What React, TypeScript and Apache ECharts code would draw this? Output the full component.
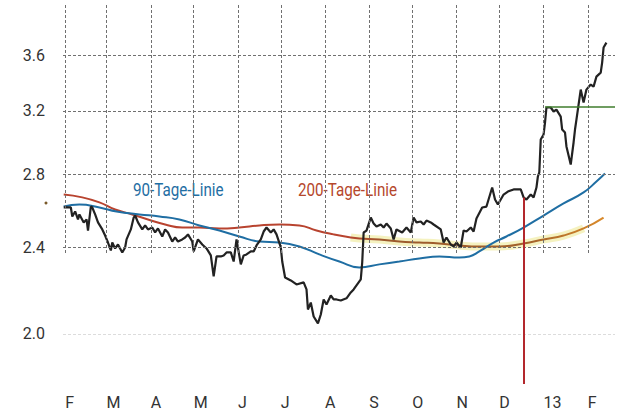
import React, { useEffect, useRef } from "react";
import * as echarts from "echarts";

// x values are days counted from 1 Feb 2012
const monthStartDays = [0, 29, 60, 90, 121, 151, 182, 213, 243, 274, 304, 335, 366];
const monthLabels = ["F", "M", "A", "M", "J", "J", "A", "S", "O", "N", "D", "13", "F"];
const yTickValues = [2.0, 2.4, 2.8, 3.2, 3.6];
const yTickLabels = ["2.0", "2.4", "2.8", "3.2", "3.6"];

const priceDays = [
  -1, 4, 5, 7, 9, 10, 13, 15, 16, 18,
  19, 21, 23, 26, 28, 30, 32, 33, 35, 37,
  40, 42, 43, 46, 48, 49, 51, 54, 56, 58,
  61, 63, 65, 68, 70, 72, 75, 77, 79, 82,
  84, 86, 89, 90, 93, 96, 99, 102, 104, 106,
  109, 111, 113, 116, 118, 120, 123, 125, 127, 130,
  132, 134, 137, 139, 141, 144, 146, 148, 151, 152,
  154, 158, 162, 167, 169, 170, 172, 174, 177, 179,
  181, 183, 186, 188, 190, 193, 197, 200, 202, 204,
  207, 208, 209, 211, 214, 216, 218, 221, 223, 225,
  228, 230, 232, 236, 239, 242, 244, 246, 249, 251,
  253, 256, 258, 263, 265, 267, 270, 272, 274, 277,
  279, 281, 284, 286, 288, 292, 295, 299, 301, 303,
  307, 310, 314, 319, 321, 323, 326, 328, 330, 331,
  332, 333, 335, 336, 337, 340, 342, 344, 347, 348,
  350, 351, 354, 356, 357, 358, 359, 361, 363, 365,
  368, 370, 372, 375, 376, 377, 379,
];
const priceValues = [
  2.611, 2.611, 2.562, 2.589, 2.546, 2.573, 2.53, 2.546, 2.487, 2.616,
  2.611, 2.573, 2.53, 2.493, 2.461, 2.425, 2.385, 2.425, 2.395, 2.415,
  2.375, 2.4, 2.441, 2.493, 2.556, 2.567, 2.53, 2.493, 2.514, 2.493,
  2.503, 2.477, 2.498, 2.456, 2.493, 2.477, 2.43, 2.451, 2.43, 2.441,
  2.451, 2.467, 2.43, 2.38, 2.441, 2.415, 2.395, 2.36, 2.258, 2.355,
  2.355, 2.36, 2.375, 2.375, 2.33, 2.441, 2.316, 2.36, 2.365, 2.38,
  2.38, 2.41, 2.441, 2.482, 2.503, 2.477, 2.493, 2.467, 2.4, 2.33,
  2.253, 2.239, 2.22, 2.23, 2.197, 2.106, 2.137, 2.075, 2.045, 2.084,
  2.151, 2.128, 2.169, 2.151, 2.151, 2.146, 2.156, 2.183, 2.197, 2.216,
  2.244, 2.325, 2.477, 2.487, 2.556, 2.524, 2.508, 2.519, 2.503, 2.524,
  2.498, 2.441, 2.493, 2.477, 2.503, 2.477, 2.556, 2.53, 2.535, 2.519,
  2.54, 2.53, 2.519, 2.493, 2.425, 2.451, 2.415, 2.405, 2.425, 2.4,
  2.487, 2.482, 2.503, 2.482, 2.551, 2.611, 2.616, 2.723, 2.655, 2.627,
  2.683, 2.7, 2.712, 2.712, 2.667, 2.655, 2.683, 2.667, 2.723, 2.787,
  2.811, 3.013, 3.045, 3.122, 3.223, 3.223, 3.196, 3.209, 3.162, 3.077,
  3.057, 2.969, 2.858, 2.994, 3.077, 3.142, 3.209, 3.347, 3.257, 3.347,
  3.383, 3.368, 3.44, 3.469, 3.543, 3.657, 3.695,
];

const ma90Days = [-1, 10, 24, 36, 52, 66, 80, 94, 108, 122, 136, 150, 164, 178, 192, 206, 220, 234, 248, 262, 276, 283, 290, 300, 309, 321, 335, 349, 363, 372, 378];
const ma90Values = [2.616, 2.627, 2.611, 2.589, 2.573, 2.562, 2.546, 2.514, 2.487, 2.456, 2.43, 2.425, 2.405, 2.365, 2.33, 2.301, 2.316, 2.33, 2.345, 2.355, 2.35, 2.355, 2.38, 2.425, 2.456, 2.503, 2.567, 2.633, 2.695, 2.758, 2.805];

const ma200Days = [-1, 12, 24, 35, 47, 58, 70, 82, 94, 108, 122, 136, 150, 164, 176, 188, 200, 206, 220, 234, 248, 262, 276, 290, 304, 321, 335, 349, 363, 377];
const ma200Values = [2.683, 2.667, 2.639, 2.6, 2.573, 2.546, 2.519, 2.503, 2.503, 2.498, 2.503, 2.514, 2.519, 2.514, 2.487, 2.467, 2.451, 2.446, 2.441, 2.43, 2.425, 2.42, 2.41, 2.405, 2.405, 2.42, 2.441, 2.461, 2.498, 2.556];

const signalDay = 321;
const signalPrice = 2.667;
const resistanceLevel = 3.226;
const resistanceStartDay = 336;

const X_MIN = -1.5;
const X_MAX = 385;
const Y_MIN = 1.8;
const Y_MAX = 4.0;

const FONT = "Roboto, 'Liberation Sans', sans-serif";

function buildOption() {
  const grid = { color: "#707070", width: 1, type: [3, 2] as number[] };
  const hSpans: Record<string, [number, number, string]> = {
    "3.6": [X_MIN, X_MAX, "#707070"],
    "3.2": [X_MIN, resistanceStartDay, "#707070"],
    "2.8": [X_MIN, X_MAX, "#707070"],
    "2.4": [X_MIN, 355, "#707070"],
    "2.0": [X_MIN, X_MAX, "#dcdcdc"],
  };
  const hLines = yTickValues.map((v, i) => {
    const [a, b, c] = hSpans[yTickLabels[i]];
    return [
      {
        coord: [a, v],
        lineStyle: { ...grid, color: c },
        label: {
          show: true,
          position: "start",
          distance: 18,
          formatter: yTickLabels[i],
          color: "#333",
          fontSize: 16,
          fontFamily: FONT,
        },
      },
      { coord: [b, v] },
    ];
  });
  const vLines = monthStartDays.map((d) => [
    { coord: [d, Y_MAX], lineStyle: grid, label: { show: false } },
    { coord: [d, 2.37] },
  ]);

  const redGradient = new echarts.graphic.LinearGradient(0, 0, 1, 0, [
    { offset: 0, color: "#b8432f" },
    { offset: 0.52, color: "#b8432f" },
    { offset: 0.6, color: "#9c5a2c" },
    { offset: 0.86, color: "#a3622a" },
    { offset: 1, color: "#d98a2b" },
  ]);

  const pricePts = priceDays.map((d, i) => [d, priceValues[i]]);
  const ma90Pts = ma90Days.map((d, i) => [d, ma90Values[i]]);
  const ma200Pts = ma200Days.map((d, i) => [d, ma200Values[i]]);
  const glowPts = ma200Pts.filter(([d]) => d >= 200 && d <= 363);

  return {
    animation: false,
    backgroundColor: "#ffffff",
    grid: { left: 63, right: 3, top: 5, bottom: 29, containLabel: false },
    xAxis: {
      type: "value",
      min: X_MIN,
      max: X_MAX,
      axisLine: { show: false },
      axisTick: { show: false },
      splitLine: { show: false },
      axisLabel: {
        customValues: monthStartDays,
        formatter: (v: number) => {
          const i = monthStartDays.indexOf(v);
          return i >= 0 ? monthLabels[i] : "";
        },
        align: "left",
        margin: 10,
        color: "#333",
        fontSize: 16,
        fontFamily: FONT,
      },
    },
    yAxis: {
      type: "log",
      logBase: 10,
      min: Y_MIN,
      max: Y_MAX,
      axisLine: { show: false },
      axisTick: { show: false },
      splitLine: { show: false },
      axisLabel: { show: false },
    },
    series: [
      {
        name: "grid",
        type: "line",
        data: [[X_MIN, Y_MAX]],
        symbol: "none",
        lineStyle: { opacity: 0 },
        silent: true,
        z: 1,
        markLine: {
          silent: true,
          symbol: ["none", "none"],
          animation: false,
          data: [...hLines, ...vLines],
        },
      },
      {
        name: "glow",
        type: "line",
        data: glowPts,
        smooth: true,
        symbol: "none",
        silent: true,
        lineStyle: { color: "rgba(236, 230, 130, 0.5)", width: 8 },
        z: 2,
      },
      {
        name: "200-Tage-Linie",
        type: "line",
        data: ma200Pts,
        smooth: true,
        symbol: "none",
        lineStyle: { color: redGradient, width: 2 },
        z: 3,
      },
      {
        name: "90-Tage-Linie",
        type: "line",
        data: ma90Pts,
        smooth: true,
        symbol: "none",
        lineStyle: { color: "#1f6ea3", width: 2 },
        z: 3,
      },
      {
        name: "Kurs",
        type: "line",
        data: pricePts,
        symbol: "none",
        lineStyle: { color: "#222222", width: 2.2 },
        z: 4,
        markLine: {
          silent: true,
          symbol: ["none", "none"],
          label: { show: false },
          data: [
            [
              { coord: [signalDay, signalPrice], lineStyle: { color: "#b3282d", width: 2, type: "solid" } },
              { coord: [signalDay, Y_MIN] },
            ],
            [
              { coord: [resistanceStartDay, resistanceLevel], lineStyle: { color: "#3f7d2c", width: 1.5, type: "solid" } },
              { coord: [X_MAX, resistanceLevel] },
            ],
          ],
        },
      },
    ],
    graphic: [
      {
        type: "text",
        x: 133,
        y: 180,
        scaleX: 0.8,
        style: { text: "90-Tage-Linie", fill: "#1f6ea3", fontSize: 19, fontFamily: FONT },
      },
      {
        type: "text",
        x: 298,
        y: 180,
        scaleX: 0.8,
        style: { text: "200-Tage-Linie", fill: "#b5472c", fontSize: 19, fontFamily: FONT },
      },
      {
        type: "circle",
        shape: { cx: 46, cy: 203, r: 1.5 },
        style: { fill: "#7a5a2a" },
      },
    ],
  };
}

export default function App() {
  const ref = useRef<HTMLDivElement>(null);
  useEffect(() => {
    if (!ref.current) return;
    const chart = echarts.init(ref.current, null, { renderer: "svg" });
    chart.setOption(buildOption() as any);
    return () => chart.dispose();
  }, []);
  return (
    <div
      ref={ref}
      style={{ position: "absolute", left: 0, top: 0, width: 618, height: 413, background: "#fff" }}
    />
  );
}
